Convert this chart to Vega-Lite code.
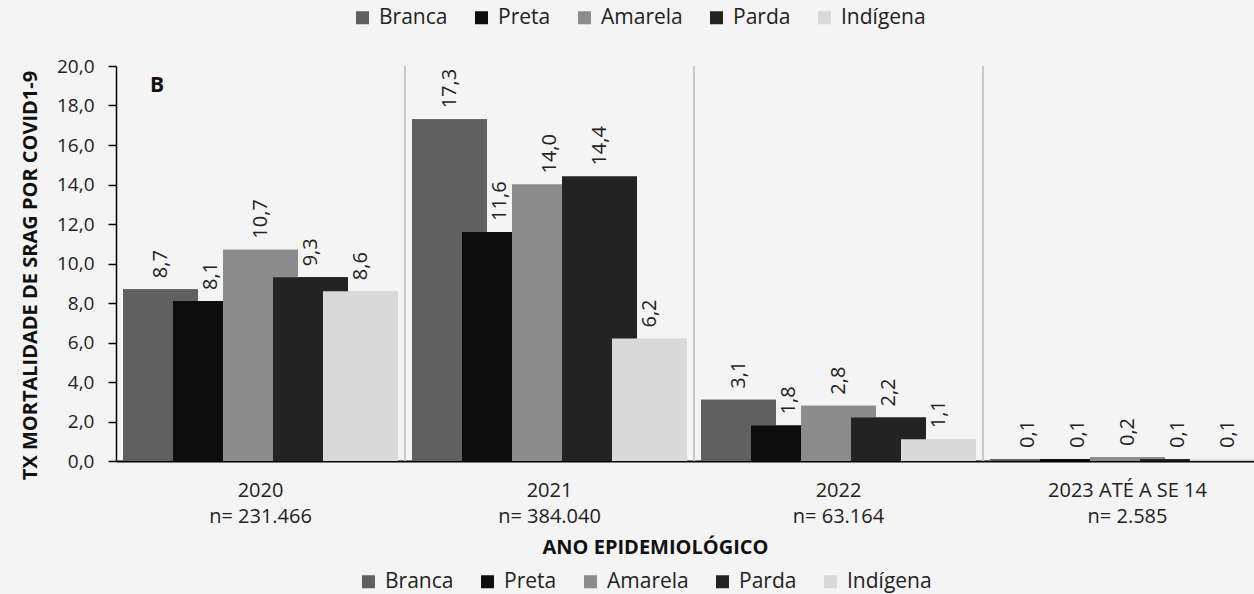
{
  "$schema": "https://vega.github.io/schema/vega-lite/v6.json",
  "width": 1138,
  "height": 395,
  "autosize": {"type": "none"},
  "padding": {"left": 116, "top": 66, "right": 0, "bottom": 133},
  "background": "#f4f4f4",
  "config": {
    "locale": {"number": {"decimal": ",", "thousands": ".", "grouping": [3], "currency": ["R$ ", ""]}},
    "view": {"stroke": null},
    "font": "Open Sans",
    "axis": {"grid": false},
    "axisY": {
      "labelOverlap": false,
      "labelBound": false,
      "labelFlush": false,
      "domainColor": "#000000",
      "domainWidth": 1.5,
      "tickColor": "#000000",
      "tickSize": 8,
      "tickWidth": 1.5,
      "labelFontSize": 19,
      "labelColor": "#222222",
      "labelPadding": 14,
      "titleFontSize": 20,
      "titleFontWeight": "bold",
      "titleColor": "#111111"
    }
  },
  "data": {
    "values": [
      {"grupo": "2020", "raca": "Branca", "taxa": 8.7},
      {"grupo": "2020", "raca": "Preta", "taxa": 8.1},
      {"grupo": "2020", "raca": "Amarela", "taxa": 10.7},
      {"grupo": "2020", "raca": "Parda", "taxa": 9.3},
      {"grupo": "2020", "raca": "Indígena", "taxa": 8.6},
      {"grupo": "2021", "raca": "Branca", "taxa": 17.3},
      {"grupo": "2021", "raca": "Preta", "taxa": 11.6},
      {"grupo": "2021", "raca": "Amarela", "taxa": 14.0},
      {"grupo": "2021", "raca": "Parda", "taxa": 14.4},
      {"grupo": "2021", "raca": "Indígena", "taxa": 6.2},
      {"grupo": "2022", "raca": "Branca", "taxa": 3.1},
      {"grupo": "2022", "raca": "Preta", "taxa": 1.8},
      {"grupo": "2022", "raca": "Amarela", "taxa": 2.8},
      {"grupo": "2022", "raca": "Parda", "taxa": 2.2},
      {"grupo": "2022", "raca": "Indígena", "taxa": 1.1},
      {"grupo": "2023 ATÉ A SE 14", "raca": "Branca", "taxa": 0.1},
      {"grupo": "2023 ATÉ A SE 14", "raca": "Preta", "taxa": 0.1},
      {"grupo": "2023 ATÉ A SE 14", "raca": "Amarela", "taxa": 0.2},
      {"grupo": "2023 ATÉ A SE 14", "raca": "Parda", "taxa": 0.1},
      {"grupo": "2023 ATÉ A SE 14", "raca": "Indígena", "taxa": 0.1}
    ]
  },
  "encoding": {
    "x": {
      "field": "grupo",
      "type": "nominal",
      "sort": ["2020", "2021", "2022", "2023 ATÉ A SE 14"],
      "scale": {"range": [0, 1156], "paddingInner": 0, "paddingOuter": 0},
      "axis": {
        "title": "ANO EPIDEMIOLÓGICO",
        "labelExpr": "[datum.label, {'2020': 'n= 231.466', '2021': 'n= 384.040', '2022': 'n= 63.164', '2023 ATÉ A SE 14': 'n= 2.585'}[datum.label]]",
        "labelAngle": 0,
        "labelFontSize": 20,
        "labelLineHeight": 26,
        "labelPadding": 19,
        "labelColor": "#222222",
        "labelOverlap": false,
        "labelBound": false,
        "labelFlush": false,
        "ticks": false,
        "domainColor": "#000000",
        "domainWidth": 2,
        "titleFontSize": 20,
        "titleFontWeight": "bold",
        "titleColor": "#111111",
        "titleX": 539,
        "titleY": 76,
        "titleAlign": "center",
        "titleBaseline": "top"
      }
    }
  },
  "layer": [
    {
      "transform": [{"filter": "datum.raca === 'Branca' && datum.grupo !== '2020'"}],
      "mark": {"type": "rule", "color": "#c8c8c8", "strokeWidth": 2},
      "encoding": {
        "x": {"field": "grupo", "type": "nominal", "sort": ["2020", "2021", "2022", "2023 ATÉ A SE 14"], "bandPosition": 0},
        "y": {"datum": 20, "type": "quantitative", "axis": {"title": "TX MORTALIDADE DE SRAG POR COVID1-9", "format": ".1f", "values": [0, 2, 4, 6, 8, 10, 12, 14, 16, 18, 20], "titleX": -86, "titleY": 209, "titleAngle": 270, "titleAlign": "center", "titleBaseline": "middle"}},
        "y2": {"datum": 0}
      }
    },
    {
      "mark": {"type": "bar", "width": 75},
      "encoding": {
        "xOffset": {"field": "raca", "sort": ["Branca", "Preta", "Amarela", "Parda", "Indígena"], "scale": {"paddingInner": 0, "paddingOuter": 0.39}},
        "y": {
          "field": "taxa",
          "type": "quantitative",
          "scale": {"domain": [0, 20]},
          "axis": {"title": "TX MORTALIDADE DE SRAG POR COVID1-9", "format": ".1f", "values": [0, 2, 4, 6, 8, 10, 12, 14, 16, 18, 20], "titleX": -86, "titleY": 209, "titleAngle": 270, "titleAlign": "center", "titleBaseline": "middle"}
        },
        "fill": {
          "field": "raca",
          "type": "nominal",
          "scale": {"domain": ["Branca", "Preta", "Amarela", "Parda", "Indígena"], "range": ["#606060", "#0d0d0d", "#8c8c8c", "#232323", "#d9d9d9"]},
          "legend": {"orient": "none", "legendX": 236, "legendY": -59, "direction": "horizontal", "columns": 5, "title": null, "symbolType": "square", "symbolSize": 169, "symbolStrokeWidth": 0, "labelFontSize": 21, "labelColor": "#222222", "columnPadding": 23, "labelOffset": 6}
        }
      }
    },
    {
      "mark": {"type": "bar", "width": 75},
      "encoding": {
        "xOffset": {"field": "raca", "sort": ["Branca", "Preta", "Amarela", "Parda", "Indígena"]},
        "y": {"field": "taxa", "type": "quantitative", "axis": {"title": "TX MORTALIDADE DE SRAG POR COVID1-9", "format": ".1f", "values": [0, 2, 4, 6, 8, 10, 12, 14, 16, 18, 20], "titleX": -86, "titleY": 209, "titleAngle": 270, "titleAlign": "center", "titleBaseline": "middle"}},
        "fill": {
          "field": "raca",
          "type": "nominal",
          "scale": {"domain": ["Branca", "Preta", "Amarela", "Parda", "Indígena"], "range": ["#606060", "#0d0d0d", "#8c8c8c", "#232323", "#d9d9d9"]},
          "legend": {"orient": "none", "legendX": 242, "legendY": 505, "direction": "horizontal", "columns": 5, "title": null, "symbolType": "square", "symbolSize": 169, "symbolStrokeWidth": 0, "labelFontSize": 21, "labelColor": "#222222", "columnPadding": 23, "labelOffset": 6}
        }
      }
    },
    {
      "mark": {"type": "text", "angle": 270, "align": "left", "baseline": "middle", "dx": 11, "fontSize": 20, "color": "#222222"},
      "encoding": {
        "xOffset": {"field": "raca", "sort": ["Branca", "Preta", "Amarela", "Parda", "Indígena"]},
        "y": {"field": "taxa", "type": "quantitative", "axis": {"title": "TX MORTALIDADE DE SRAG POR COVID1-9", "format": ".1f", "values": [0, 2, 4, 6, 8, 10, 12, 14, 16, 18, 20], "titleX": -86, "titleY": 209, "titleAngle": 270, "titleAlign": "center", "titleBaseline": "middle"}},
        "text": {"field": "taxa", "type": "quantitative", "format": ".1f"}
      }
    },
    {
      "data": {"values": [{"rotulo": "B"}]},
      "mark": {"type": "text", "fontSize": 21, "fontWeight": "bold", "color": "#111111", "align": "center", "baseline": "middle", "dx": 41},
      "encoding": {
        "x": {"datum": "2020", "bandPosition": 0},
        "y": {"datum": 19, "type": "quantitative", "axis": {"title": "TX MORTALIDADE DE SRAG POR COVID1-9", "format": ".1f", "values": [0, 2, 4, 6, 8, 10, 12, 14, 16, 18, 20], "titleX": -86, "titleY": 209, "titleAngle": 270, "titleAlign": "center", "titleBaseline": "middle"}},
        "text": {"field": "rotulo", "type": "nominal"}
      }
    }
  ],
  "resolve": {"scale": {"fill": "independent"}, "legend": {"fill": "independent"}}
}
